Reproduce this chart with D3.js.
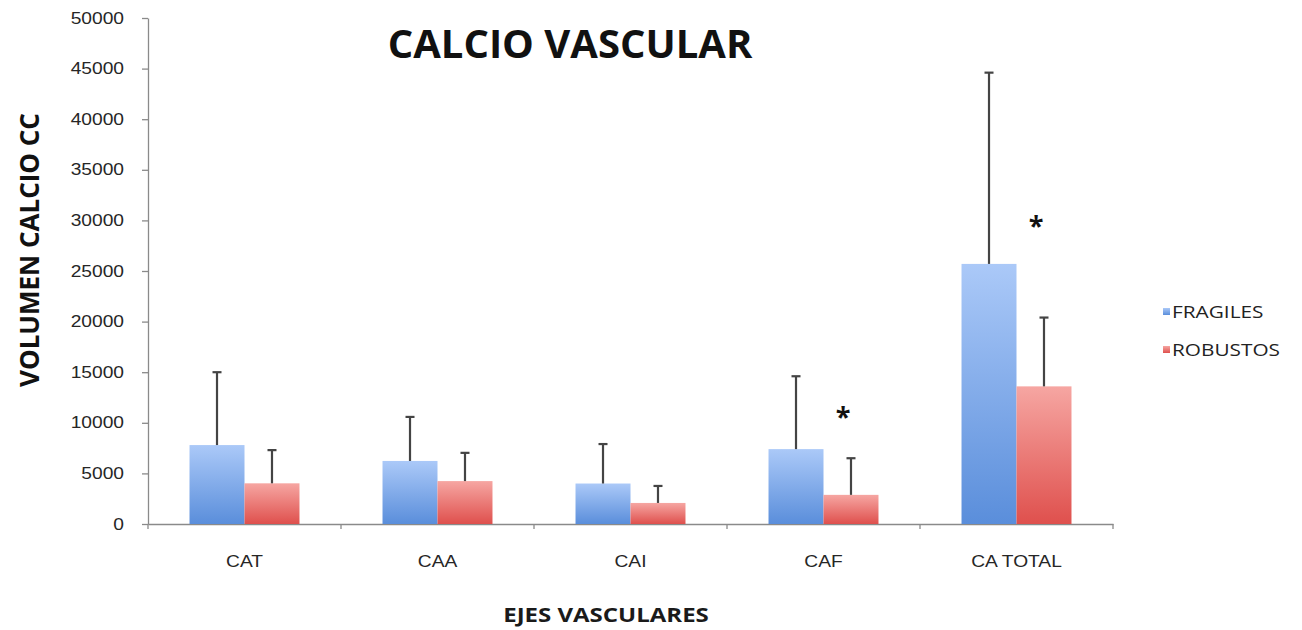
<!DOCTYPE html>
<html lang="es">
<head>
<meta charset="UTF-8">
<title>Calcio vascular</title>
<style>
    body { margin: 0; background: #fff; }
    svg { display: block; font-family: "Open Sans", sans-serif; }
    .axis path, .axis line { stroke: #8a8a8a; stroke-width: 1.3; }
    .axis text { fill: #262626; font-size: 16px; }
    .err { stroke: #444; stroke-width: 2.2; }
</style>
</head>
<body>
<svg id="chart" width="1302" height="630"></svg>
<script src="https://d3js.org/d3.v7.min.js"></script>
<script>
// values (cc of calcium)
const categories = ["CAT", "CAA", "CAI", "CAF", "CA TOTAL"];
const series = ["FRAGILES", "ROBUSTOS"];
const fragiles = [7800, 6230, 4000, 7400, 25700];
const fragilesSD = [7200, 4350, 3900, 7200, 18900];
const robustos = [4020, 4240, 2080, 2880, 13600];
const robustosSD = [3280, 2790, 1680, 3620, 6800];
// where the significance stars sit (value units), null = none
const starAt = [null, null, null, 10950, 29800];
const yTicks = [0, 5000, 10000, 15000, 20000, 25000, 30000, 35000, 40000, 45000, 50000];

const SX = 1.2; // the source image is stretched sideways a bit

const svg = d3.select("#chart");
const plotLeft = 148, plotRight = 1113, plotTop = 18, plotBottom = 524;

const x0 = d3.scaleBand().domain(categories).range([plotLeft, plotRight]).padding(0);
const x1 = d3.scaleBand().domain(series).range([0, x0.bandwidth()])
    .paddingInner(0).paddingOuter(0.755);
const y = d3.scaleLinear().domain([0, 50000]).range([plotBottom, plotTop]);

const colors = {
    FRAGILES: ["#abc9f8", "#5a8edb"],
    ROBUSTOS: ["#f6a6a2", "#df504d"]
};

const defs = svg.append("defs");
series.forEach((s, i) => {
    const g = defs.append("linearGradient")
        .attr("id", "grad" + i)
        .attr("x1", 0).attr("y1", 0).attr("x2", 0).attr("y2", 1);
    g.append("stop").attr("offset", "0%").attr("stop-color", colors[s][0]);
    g.append("stop").attr("offset", "100%").attr("stop-color", colors[s][1]);
});

const rows = categories.map((c, i) => ({
    cat: c,
    vals: [
        { s: "FRAGILES", v: fragiles[i], sd: fragilesSD[i], k: 0 },
        { s: "ROBUSTOS", v: robustos[i], sd: robustosSD[i], k: 1 }
    ]
}));

// y axis
const yAxis = svg.append("g")
    .attr("class", "axis")
    .attr("transform", `translate(${plotLeft},0)`)
    .call(d3.axisLeft(y).tickValues(yTicks).tickSize(6).tickSizeOuter(0).tickFormat(d3.format("d")));
yAxis.selectAll("text")
    .attr("x", -24 / SX)
    .attr("transform", `scale(${SX},1)`);

// x axis: line + boundary ticks + labels
const xAxis = svg.append("g")
    .attr("class", "axis")
    .attr("transform", `translate(0,${plotBottom})`)
    .call(d3.axisBottom(x0).tickSize(0).tickPadding(0));
xAxis.selectAll(".tick text")
    .attr("y", 0).attr("dy", "0")
    .attr("transform", `translate(0,43) scale(${SX},1)`);
xAxis.selectAll(".bound")
    .data(d3.range(categories.length + 1))
    .join("line")
    .attr("class", "bound")
    .attr("x1", i => plotLeft + i * x0.step())
    .attr("x2", i => plotLeft + i * x0.step())
    .attr("y1", 0).attr("y2", 5)
    .attr("stroke", "#8a8a8a").attr("stroke-width", 1.3);

// bars
const groups = svg.append("g").selectAll("g")
    .data(rows)
    .join("g")
    .attr("transform", d => `translate(${x0(d.cat)},0)`);

groups.selectAll("rect")
    .data(d => d.vals)
    .join("rect")
    .attr("x", d => x1(d.s))
    .attr("width", x1.bandwidth())
    .attr("y", d => y(d.v))
    .attr("height", d => y(0) - y(d.v))
    .attr("fill", d => `url(#grad${d.k})`);

// error bars (upper side only)
const eb = groups.selectAll("g.eb")
    .data(d => d.vals)
    .join("g")
    .attr("class", "eb");
eb.append("line")
    .attr("class", "err")
    .attr("x1", d => x1(d.s) + x1.bandwidth() / 2)
    .attr("x2", d => x1(d.s) + x1.bandwidth() / 2)
    .attr("y1", d => y(d.v))
    .attr("y2", d => y(d.v + d.sd));
eb.append("line")
    .attr("class", "err")
    .attr("x1", d => x1(d.s) + x1.bandwidth() / 2 - 4.5)
    .attr("x2", d => x1(d.s) + x1.bandwidth() / 2 + 4.5)
    .attr("y1", d => y(d.v + d.sd))
    .attr("y2", d => y(d.v + d.sd));

// significance stars
svg.append("g").selectAll("text")
    .data(rows.map((r, i) => ({ cat: r.cat, at: starAt[i] })).filter(d => d.at !== null))
    .join("text")
    .attr("x", d => x0(d.cat) + x1("ROBUSTOS") + x1.bandwidth() / 2 - 8)
    .attr("y", d => y(d.at) + 13)
    .attr("text-anchor", "middle")
    .attr("font-size", 27)
    .attr("font-weight", "bold")
    .attr("fill", "#111")
    .text("*");

// titles
svg.append("text")
    .attr("x", 570).attr("y", 58)
    .attr("text-anchor", "middle")
    .attr("font-size", 40)
    .attr("font-weight", "bold")
    .attr("fill", "#111")
    .text("CALCIO VASCULAR");

svg.append("text")
    .attr("transform", `translate(606,622) scale(${SX},1)`)
    .attr("text-anchor", "middle")
    .attr("font-size", 20)
    .attr("font-weight", "bold")
    .attr("fill", "#1a1a1a")
    .text("EJES VASCULARES");

svg.append("text")
    .attr("transform", "translate(39,250) rotate(-90)")
    .attr("text-anchor", "middle")
    .attr("font-size", 26)
    .attr("font-weight", "bold")
    .attr("fill", "#111")
    .text("VOLUMEN CALCIO CC");

// legend
const legend = svg.append("g").attr("transform", "translate(1163,312)");
const li = legend.selectAll("g")
    .data(series)
    .join("g")
    .attr("transform", (d, i) => `translate(0,${i * 38})`);
li.append("rect")
    .attr("x", 0).attr("y", -4)
    .attr("width", 7).attr("height", 7)
    .attr("fill", (d, i) => `url(#grad${i})`);
li.append("text")
    .attr("transform", `translate(9,6) scale(${SX + 0.1},1)`)
    .attr("font-size", 16)
    .attr("fill", "#222")
    .text(d => d);
</script>
</body>
</html>
